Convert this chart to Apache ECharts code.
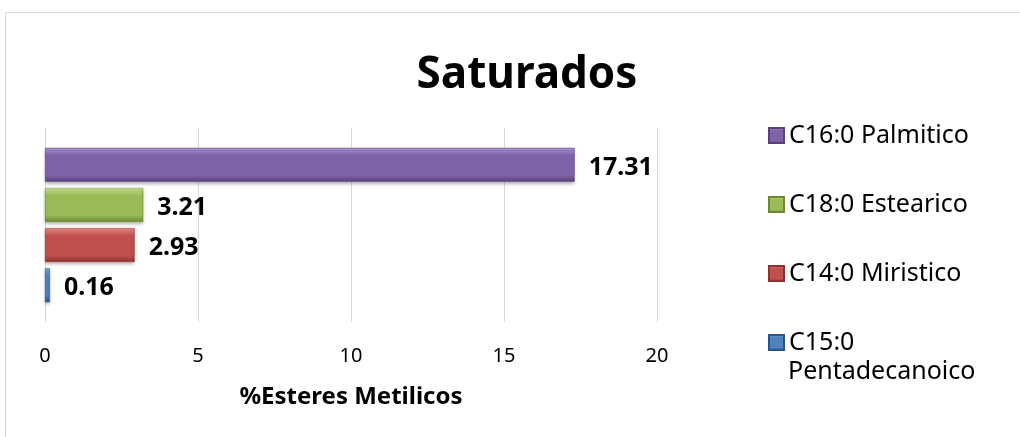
<!DOCTYPE html>
<html>
<head>
<meta charset="utf-8">
<script src="https://cdn.jsdelivr.net/npm/echarts@6/dist/echarts.min.js"></script>
<style>
  html, body { margin: 0; padding: 0; background: #fff; }
  #chart { width: 1020px; height: 437px; }
</style>
</head>
<body>
<div id="chart"></div>
<script>
const categories = ['Saturados']
const seriesNames = ['C16:0 Palmitico', 'C18:0 Estearico', 'C14:0 Miristico', 'C15:0 Pentadecanoico']
const seriesValues = [17.31, 3.21, 2.93, 0.16]
const xTicks = [0, 5, 10, 15, 20]

// colores tipo Excel con bisel: [claro, medio, oscuro]
const palette = [
  ['#ad98d3', '#7f63a8', '#58427c'],
  ['#cae291', '#9bbb59', '#6e8936'],
  ['#ee8e89', '#c0504d', '#8b3230'],
  ['#78a7de', '#4f81bd', '#2a5385']
]

const fontFamily = '"Noto Sans", sans-serif'

const chart = echarts.init(document.getElementById('chart'))

const series = seriesNames.map((name, i) => ({
  name,
  type: 'bar',
  data: [seriesValues[i]],
  barWidth: 34,
  barGap: '18%',
  itemStyle: {
    color: new echarts.graphic.LinearGradient(0, 0, 0, 1, [
      { offset: 0, color: palette[i][0] },
      { offset: 0.22, color: palette[i][1] },
      { offset: 0.8, color: palette[i][1] },
      { offset: 1, color: palette[i][2] }
    ]),
    borderColor: palette[i][2],
    borderWidth: 0.5,
    shadowColor: 'rgba(0,0,0,0.25)',
    shadowBlur: 3,
    shadowOffsetY: 2
  },
  label: {
    show: true,
    position: 'right',
    distance: 14,
    offset: [0, 3],
    formatter: (p) => p.value.toFixed(2),
    color: '#000',
    fontFamily,
    fontWeight: 'bold',
    fontSize: 25
  }
}))

const option = {
  backgroundColor: '#fff',
  animation: false,
  title: {
    text: 'Saturados',
    left: 522,
    top: 48,
    textAlign: 'center',
    textStyle: { fontFamily, fontWeight: 'bold', fontSize: 44, color: '#000' }
  },
  legend: {
    orient: 'vertical',
    left: 763,
    top: 117,
    icon: 'rect',
    itemWidth: 15,
    itemHeight: 15,
    itemGap: 42,
    data: seriesNames,
    formatter: (name) => name === 'C15:0 Pentadecanoico' ? 'C15:0' : name,
    textStyle: { fontFamily, fontSize: 25, color: '#000', lineHeight: 27 }
  },
  graphic: [
    {
      type: 'rect',
      shape: { x: 5.5, y: 12.5, width: 1200, height: 600 },
      style: { fill: 'none', stroke: '#d9d9d9', lineWidth: 1 },
      silent: true
    },
    {
      type: 'text',
      left: 788,
      top: 359,
      style: { text: 'Pentadecanoico', fontFamily, fontSize: 25, fill: '#000' }
    }
  ],
  grid: { left: 45, right: 363, top: 128, bottom: 115 },
  xAxis: {
    type: 'value',
    min: xTicks[0],
    max: xTicks[xTicks.length - 1],
    interval: 5,
    axisLine: { show: false },
    axisTick: { show: false },
    axisLabel: { fontFamily, fontSize: 20, color: '#000', margin: 24 },
    splitLine: { lineStyle: { color: '#d9d9d9', width: 1 } },
    name: '%Esteres Metilicos',
    nameLocation: 'middle',
    nameGap: 63,
    nameTextStyle: { fontFamily, fontWeight: 'bold', fontSize: 24, color: '#000' }
  },
  yAxis: {
    type: 'category',
    data: categories,
    inverse: true,
    axisLine: { show: true, lineStyle: { color: '#d9d9d9' } },
    axisTick: { show: false },
    axisLabel: { show: false }
  },
  series
}

chart.setOption(option)
</script>
</body>
</html>
